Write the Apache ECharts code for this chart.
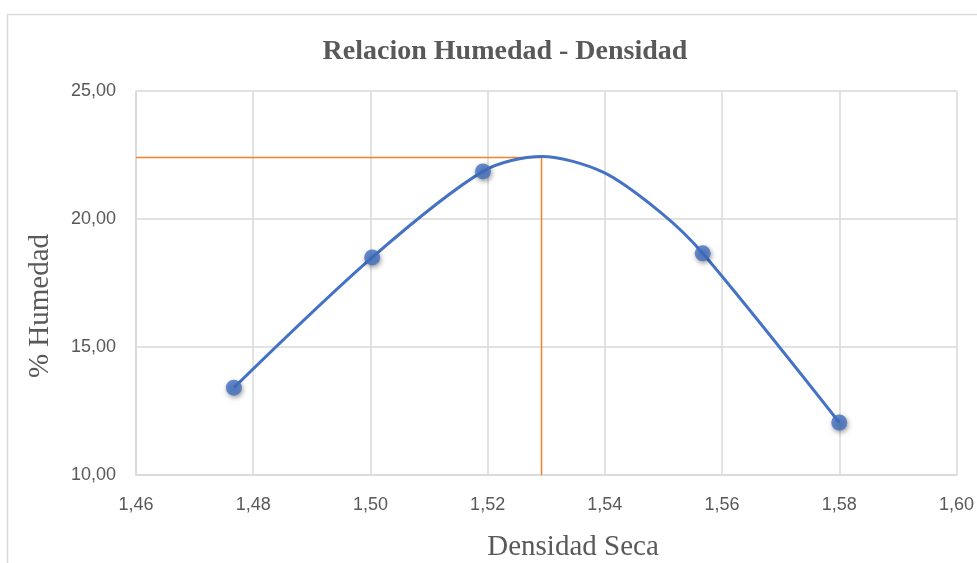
<!DOCTYPE html>
<html>
<head>
<meta charset="utf-8">
<script src="https://cdn.jsdelivr.net/npm/echarts@6/dist/echarts.min.js"></script>
<style>html,body{margin:0;padding:0;background:#fff;}#c{width:977px;height:563px;}</style>
</head>
<body>
<div id="c"></div>
<script>
// Measured points (Densidad Seca, % Humedad)
const densidad = [1.4767, 1.5003, 1.5192, 1.5567, 1.5800];
const humedad  = [13.41, 18.50, 21.86, 18.66, 12.05];
// Smoothed curve
const curveX = [1.4767, 1.5003, 1.5192, 1.5292, 1.5397, 1.5494, 1.5567, 1.5800];
const curveY = [13.41, 18.50, 21.86, 22.44, 21.83, 20.28, 18.66, 12.05];
// Optimum guide lines
const optX = 1.5292;
const optY = 22.40;
const xTicks = [1.46, 1.60, 0.02];
const yTicks = [10, 25, 5];

const fmt = v => v.toFixed(2).replace('.', ',');
const serif = 'Liberation Serif';
const chart = echarts.init(document.getElementById('c'), null, {renderer: 'canvas'});
chart.setOption({
  backgroundColor: '#fff',
  animation: false,
  title: {
    text: 'Relacion Humedad - Densidad',
    left: 500, top: 33, textAlign: 'center',
    textStyle: {fontFamily: serif, fontWeight: 'bold', fontSize: 28, color: '#595959'}
  },
  graphic: [
    {type: 'rect', shape: {x: 7.5, y: 14.5, width: 1000, height: 700},
     style: {fill: 'none', stroke: '#d9d9d9', lineWidth: 1.5}, z: -1},
    {type: 'text', x: 573, y: 547,
     style: {text: 'Densidad Seca', font: '29px "Liberation Serif"', fill: '#595959', textAlign: 'center', textVerticalAlign: 'middle'}},
    {type: 'text', x: 40, y: 306, rotation: Math.PI / 2,
     style: {text: '% Humedad', font: '29px "Liberation Serif"', fill: '#595959', textAlign: 'center', textVerticalAlign: 'middle'}}
  ],
  grid: {left: 136, right: 20, top: 91, bottom: 88, containLabel: false},
  xAxis: {
    type: 'value', min: xTicks[0], max: xTicks[1], interval: xTicks[2],
    axisLine: {lineStyle: {color: '#d9d9d9', width: 1.5}},
    axisTick: {show: false},
    axisLabel: {formatter: fmt, fontFamily: 'Liberation Sans', fontSize: 18, color: '#595959', margin: 21},
    splitLine: {lineStyle: {color: '#d9d9d9', width: 1.5}}
  },
  yAxis: {
    type: 'value', min: yTicks[0], max: yTicks[1], interval: yTicks[2],
    axisLine: {show: true, lineStyle: {color: '#d9d9d9', width: 1.5}},
    axisTick: {show: false},
    axisLabel: {formatter: fmt, fontFamily: 'Liberation Sans', fontSize: 18, color: '#595959', margin: 20},
    splitLine: {lineStyle: {color: '#d9d9d9', width: 1.5}}
  },
  series: [
    {
      type: 'line', name: 'opt', data: [[xTicks[0], optY], [optX, optY], [optX, yTicks[0]]],
      color: '#F5822A', itemStyle: {color: '#F5822A'},
      showSymbol: false, lineStyle: {color: '#F5822A', width: 1.5, opacity: 1}, z: 1, silent: true
    },
    {
      type: 'line', name: 'curve', data: curveX.map((x, i) => [x, curveY[i]]),
      color: '#4472C4',
      smooth: 0.3, showSymbol: false, lineStyle: {color: '#4472C4', width: 3}, z: 2
    },
    {
      type: 'scatter', name: 'pts', data: densidad.map((x, i) => [x, humedad[i]]),
      symbolSize: 16,
      itemStyle: {color: '#4472C4', shadowColor: 'rgba(0,0,0,0.5)', shadowBlur: 5, shadowOffsetX: 1, shadowOffsetY: 2},
      z: 3
    }
  ]
});
</script>
</body>
</html>
